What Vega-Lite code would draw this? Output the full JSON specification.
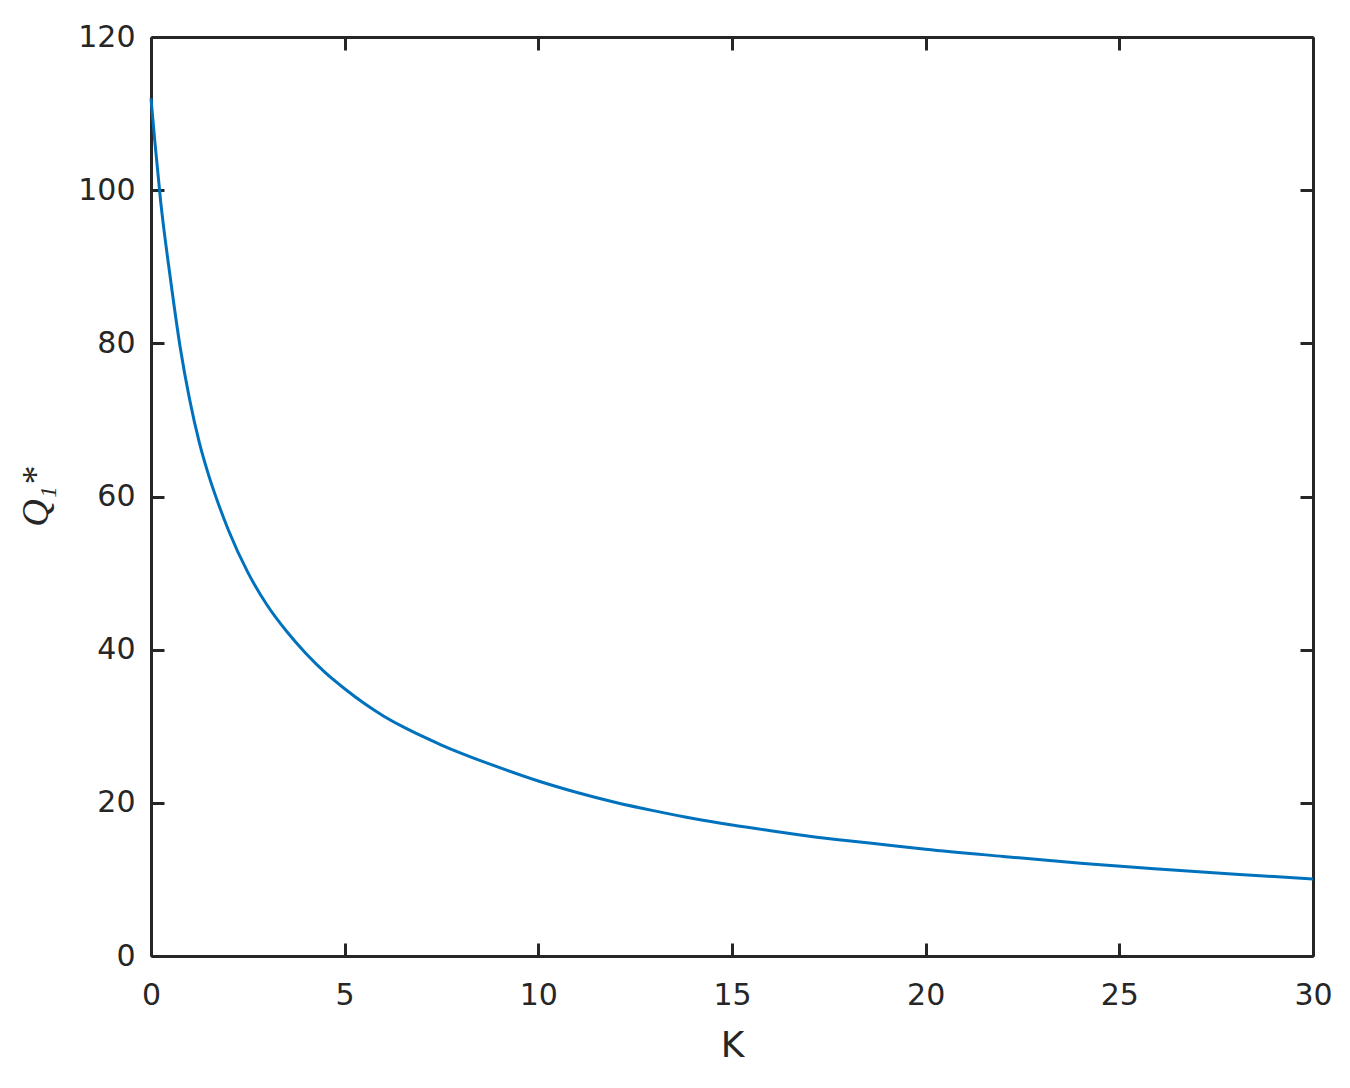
{
  "$schema": "https://vega.github.io/schema/vega-lite/v6.json",
  "autosize": {"type": "none"},
  "padding": {"left": 151, "top": 37, "right": 37, "bottom": 132},
  "width": 1162,
  "height": 919,
  "background": "white",
  "config": {
    "view": {"stroke": null},
    "axis": {
      "domainColor": "#262626",
      "domainWidth": 3,
      "tickColor": "#262626",
      "tickWidth": 3,
      "tickSize": -13,
      "grid": false,
      "labelFlush": false,
      "labelFont": "DejaVu Sans",
      "labelFontSize": 30,
      "labelColor": "#262626",
      "titleFont": "DejaVu Sans",
      "titleFontSize": 36,
      "titleFontWeight": "normal",
      "titleColor": "#262626"
    }
  },
  "data": {
    "values": [
      {"K": 0, "Q": 112},
      {"K": 0.1, "Q": 106.3},
      {"K": 0.25, "Q": 98.5},
      {"K": 0.5, "Q": 88.5},
      {"K": 0.75, "Q": 79.6},
      {"K": 1.0, "Q": 72.6},
      {"K": 1.25, "Q": 67.0},
      {"K": 1.5, "Q": 62.6},
      {"K": 1.75, "Q": 58.9},
      {"K": 2.0, "Q": 55.6},
      {"K": 2.5, "Q": 50.1},
      {"K": 3.0, "Q": 45.8},
      {"K": 3.5, "Q": 42.4},
      {"K": 4.0, "Q": 39.5},
      {"K": 4.5, "Q": 37.0},
      {"K": 5.0, "Q": 34.9},
      {"K": 5.5, "Q": 33.0},
      {"K": 6.0, "Q": 31.35},
      {"K": 6.5, "Q": 29.95},
      {"K": 7.0, "Q": 28.7},
      {"K": 7.5, "Q": 27.55},
      {"K": 8.0, "Q": 26.5},
      {"K": 9.0, "Q": 24.6},
      {"K": 10.0, "Q": 22.85},
      {"K": 11.0, "Q": 21.35},
      {"K": 12.0, "Q": 20.05},
      {"K": 13.0, "Q": 18.95},
      {"K": 14.0, "Q": 17.95},
      {"K": 15.0, "Q": 17.1},
      {"K": 16.0, "Q": 16.35},
      {"K": 17.0, "Q": 15.65},
      {"K": 18.0, "Q": 15.05},
      {"K": 19.0, "Q": 14.5},
      {"K": 20.0, "Q": 13.95},
      {"K": 22.0, "Q": 13.0},
      {"K": 24.0, "Q": 12.1},
      {"K": 26.0, "Q": 11.35},
      {"K": 28.0, "Q": 10.68},
      {"K": 30.0, "Q": 10.05}
    ]
  },
  "layer": [
    {
      "mark": {"type": "line", "color": "#0072BD", "strokeWidth": 3, "interpolate": "monotone"},
      "encoding": {
        "x": {
          "field": "K", "type": "quantitative",
          "scale": {"domain": [0, 30], "nice": false, "zero": false},
          "axis": {"orient": "bottom", "values": [0, 5, 10, 15, 20, 25, 30], "title": "K", "labelPadding": 37, "titlePadding": 18}
        },
        "y": {
          "field": "Q", "type": "quantitative",
          "scale": {"domain": [0, 120], "nice": false, "zero": false},
          "axis": {"orient": "left", "values": [0, 20, 40, 60, 80, 100, 120], "title": "Q₁*", "titleFont": "Liberation Serif", "titleFontStyle": "italic", "titleFontSize": 38, "labelPadding": 29, "titlePadding": 22}
        }
      }
    },
    {
      "mark": {"type": "point", "opacity": 0},
      "encoding": {
        "x": {
          "field": "K", "type": "quantitative",
          "scale": {"domain": [0, 30], "nice": false, "zero": false},
          "axis": {"orient": "top", "values": [0, 5, 10, 15, 20, 25, 30], "labels": false, "title": null}
        },
        "y": {
          "field": "Q", "type": "quantitative",
          "scale": {"domain": [0, 120], "nice": false, "zero": false},
          "axis": {"orient": "right", "values": [0, 20, 40, 60, 80, 100, 120], "labels": false, "title": null}
        }
      }
    }
  ],
  "resolve": {"axis": {"x": "independent", "y": "independent"}}
}
